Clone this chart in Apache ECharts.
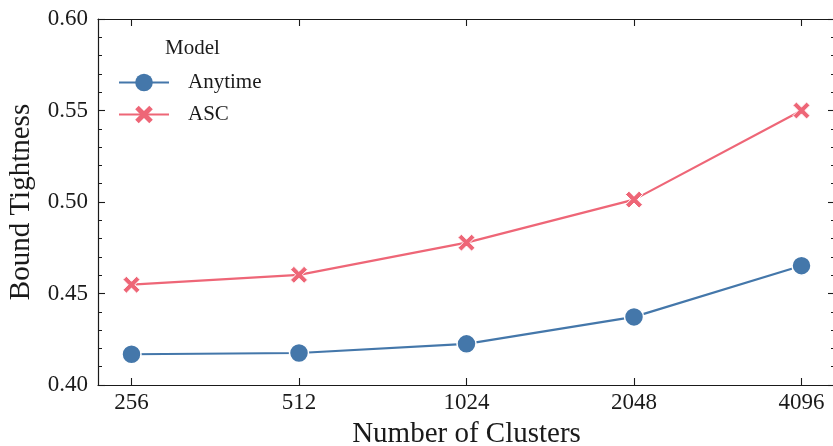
<!DOCTYPE html>
<html>
<head>
<meta charset="utf-8">
<script src="https://cdn.jsdelivr.net/npm/echarts@6/dist/echarts.min.js"></script>
<style>
  html, body { margin: 0; padding: 0; background: #fff; }
  #chart { width: 833px; height: 446px; }
</style>
</head>
<body>
<div id="chart"></div>
<script>
// Cluster counts along the x axis
const clusters = ['256', '512', '1024', '2048', '4096'];
// Bound tightness per model
const anytime = [0.4168, 0.4175, 0.4225, 0.4372, 0.4652];
const asc = [0.4548, 0.4602, 0.4778, 0.5013, 0.5500];
const seriesNames = ['Anytime', 'ASC'];
const yTicks = { min: 0.40, max: 0.60, step: 0.05 };

const FONT = '"Liberation Serif", "DejaVu Serif", serif';
const INK = '#1a1a1a';
const BLUE = '#4477AA';
const RED = '#EE6677';
const crossPath = 'path://M2,0 L5,3 L8,0 L10,2 L7,5 L10,8 L8,10 L5,7 L2,10 L0,8 L3,5 L0,2 Z';

const idx = clusters.map((_, i) => i);
const toPairs = vals => vals.map((v, i) => [i, v]);

const xCommon = {
  type: 'value', min: -0.2, max: 4.2,
  axisLine: { show: true, onZero: false, lineStyle: { color: INK, width: 1.2 } },
  axisTick: { show: true, inside: true, length: 7, customValues: idx, lineStyle: { color: INK, width: 1.1 } },
  splitLine: { show: false }
};
const yCommon = {
  type: 'value', min: yTicks.min, max: yTicks.max, interval: yTicks.step,
  axisLine: { show: true, onZero: false, lineStyle: { color: INK, width: 1.2 } },
  axisTick: { show: true, inside: true, length: 7, lineStyle: { color: INK, width: 1.1 } },
  minorTick: { show: true, splitNumber: 5, length: 4, lineStyle: { color: INK, width: 1 } },
  splitLine: { show: false }
};

const chart = echarts.init(document.getElementById('chart'), null, { renderer: 'canvas' });
chart.setOption({
  animation: false,
  backgroundColor: '#fff',
  textStyle: { fontFamily: FONT },
  grid: { left: 98, right: -2, top: 19, bottom: 61, containLabel: false, outerBoundsMode: 'none' },
  title: {
    text: 'Model', left: 165, top: 38, padding: 0,
    textStyle: { fontFamily: FONT, fontWeight: 'normal', fontSize: 21, color: INK }
  },
  legend: {
    orient: 'vertical', left: 118, top: 72, padding: 0,
    itemWidth: 50, itemHeight: 22, itemGap: 11,
    data: seriesNames,
    itemStyle: { borderWidth: 0 },
    textStyle: { fontFamily: FONT, fontSize: 21, color: INK, padding: [0, 0, 0, 14] }
  },
  xAxis: [
    Object.assign({}, xCommon, {
      position: 'bottom',
      name: 'Number of Clusters', nameLocation: 'middle', nameGap: 35,
      nameTextStyle: { fontFamily: FONT, fontSize: 29, color: INK },
      axisLabel: {
        show: true, customValues: idx, margin: 6,
        fontFamily: FONT, fontSize: 23, color: INK,
        formatter: v => clusters[Math.round(v)]
      }
    }),
    Object.assign({}, xCommon, { position: 'top', axisLabel: { show: false } })
  ],
  yAxis: [
    Object.assign({}, yCommon, {
      position: 'left',
      name: 'Bound Tightness', nameLocation: 'middle', nameGap: 62,
      nameTextStyle: { fontFamily: FONT, fontSize: 29, color: INK },
      axisLabel: {
        show: true, margin: 10, fontFamily: FONT, fontSize: 23, color: INK,
        formatter: v => v.toFixed(2)
      }
    }),
    Object.assign({}, yCommon, { position: 'right', axisLabel: { show: false } })
  ],
  series: [
    {
      name: seriesNames[0], type: 'line', data: toPairs(anytime),
      xAxisIndex: 0, yAxisIndex: 0,
      symbol: 'circle', symbolSize: 19,
      lineStyle: { color: BLUE, width: 2.2 },
      itemStyle: { color: BLUE, borderColor: '#fff', borderWidth: 1.5 }
    },
    {
      name: seriesNames[1], type: 'line', data: toPairs(asc),
      xAxisIndex: 0, yAxisIndex: 0,
      symbol: crossPath, symbolSize: 17,
      lineStyle: { color: RED, width: 2.2 },
      itemStyle: { color: RED, borderColor: '#fff', borderWidth: 1 }
    }
  ]
});
</script>
</body>
</html>
